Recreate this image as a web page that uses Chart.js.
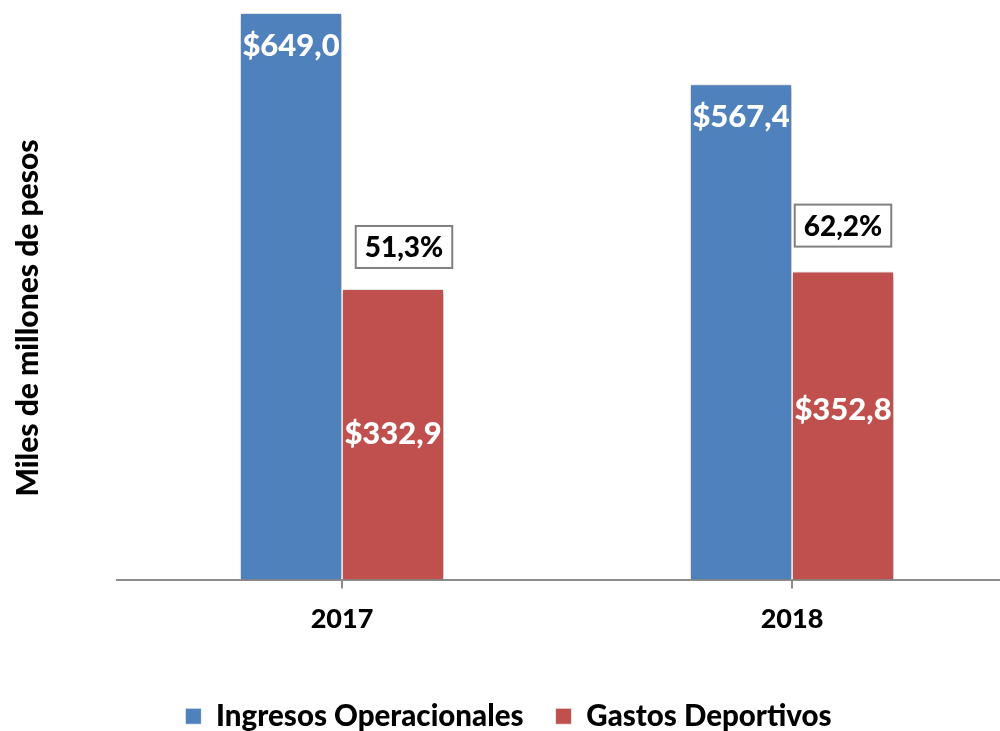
<!DOCTYPE html>
<html>
<head>
<meta charset="utf-8">
<script src="https://cdn.jsdelivr.net/npm/chart.js@4.4.1/dist/chart.umd.min.js"></script>
<style>
  html, body { margin: 0; padding: 0; background: #fff; overflow: hidden; }
  /* the original plot runs a bit past the right and bottom edge, so the canvas is cropped */
  #wrap { width: 1000px; height: 731px; overflow: hidden; }
</style>
</head>
<body>
<div id="wrap"><canvas id="chart" width="1017" height="741"></canvas></div>
<script>
// data
const years = ['2017', '2018'];
const ingresos = [649.0, 567.4];
const gastos = [332.9, 352.8];
const pctLabels = ['51,3%', '62,2%'];

const FONT = 'Lato';
const W = 900;

function money(v) {
  return '$' + v.toFixed(1).replace('.', ',');
}

// y axis title, drawn by hand so it can sit where the original has it
const yTitle = {
  id: 'yTitle',
  afterDraw(chart) {
    const ctx = chart.ctx;
    ctx.save();
    ctx.translate(28, 318);
    ctx.rotate(-Math.PI / 2);
    ctx.font = W + ' 30px ' + FONT;
    ctx.fillStyle = '#000';
    ctx.textAlign = 'center';
    ctx.textBaseline = 'middle';
    ctx.fillText('Miles de millones de pesos', 0, 0);
    ctx.restore();
  }
};

// soft shadow behind the bars
const barShadow = {
  id: 'barShadow',
  beforeDatasetsDraw(chart) {
    const ctx = chart.ctx;
    ctx.save();
    ctx.shadowColor = 'rgba(0,0,0,0.35)';
    ctx.shadowBlur = 6;
    ctx.shadowOffsetX = 1;
    ctx.shadowOffsetY = 1;
  },
  afterDatasetsDraw(chart) {
    chart.ctx.restore();
  }
};

// values inside the bars + percentage boxes above the red bars
const barLabels = {
  id: 'barLabels',
  afterDatasetsDraw(chart) {
    const ctx = chart.ctx;
    ctx.save();
    ctx.textAlign = 'center';
    ctx.textBaseline = 'middle';
    ctx.font = W + ' 31px ' + FONT;
    ctx.fillStyle = '#fff';

    chart.getDatasetMeta(0).data.forEach((bar, i) => {
      ctx.fillText(money(ingresos[i]), bar.x, bar.y + 33);
    });
    chart.getDatasetMeta(1).data.forEach((bar, i) => {
      // the 2018 label sits a little above the middle in the original
      const mid = (bar.y + bar.base) / 2;
      ctx.fillText(money(gastos[i]), bar.x, i === 0 ? mid : mid - 16);
    });

    // percentage boxes
    ctx.font = W + ' 28px ' + FONT;
    chart.getDatasetMeta(1).data.forEach((bar, i) => {
      const txt = pctLabels[i];
      const w = ctx.measureText(txt).width + 18;
      const h = 42;
      const cx = bar.x + (i === 0 ? 11 : 0);
      const cy = bar.y - (i === 0 ? 42 : 46);
      ctx.fillStyle = '#fff';
      ctx.fillRect(cx - w / 2, cy - h / 2, w, h);
      ctx.strokeStyle = '#808080';
      ctx.lineWidth = 2;
      ctx.strokeRect(cx - w / 2, cy - h / 2, w, h);
      ctx.fillStyle = '#000';
      ctx.fillText(txt, cx, cy + 1);
    });
    ctx.restore();
  }
};

const chart = new Chart(document.getElementById('chart'), {
  type: 'bar',
  data: {
    labels: years,
    datasets: [
      {
        label: 'Ingresos Operacionales',
        data: ingresos,
        backgroundColor: '#4F81BD',
        borderColor: 'rgba(255,255,255,0.7)',
        borderWidth: 1
      },
      {
        label: 'Gastos Deportivos',
        data: gastos,
        backgroundColor: '#C0504D',
        borderColor: 'rgba(255,255,255,0.7)',
        borderWidth: 1
      }
    ]
  },
  options: {
    responsive: false,
    animation: false,
    layout: {
      padding: 0
    },
    datasets: {
      bar: { barPercentage: 1, categoryPercentage: 0.4533 }
    },
    scales: {
      x: {
        afterFit(scale) { scale.height = 90; },
        grid: {
          display: true,
          drawOnChartArea: false,
          offset: false,
          tickLength: 9,
          color: '#8c8c8c',
          lineWidth: 2
        },
        border: { display: true, color: '#8c8c8c', width: 2 },
        ticks: {
          color: '#000',
          padding: 15,
          font: { family: FONT, size: 27, weight: W }
        }
      },
      y: {
        min: 0,
        max: 664,
        afterFit(scale) { scale.width = 117; },
        grid: { display: false },
        border: { display: false },
        ticks: { display: false }
      }
    },
    plugins: {
      legend: {
        position: 'bottom',
        labels: {
          color: '#000',
          boxWidth: 16,
          boxHeight: 16,
          padding: 32,
          font: { family: FONT, size: 29.5, weight: W }
        }
      },
      tooltip: { enabled: false }
    }
  },
  plugins: [barShadow, barLabels, yTitle]
});
</script>
</body>
</html>
